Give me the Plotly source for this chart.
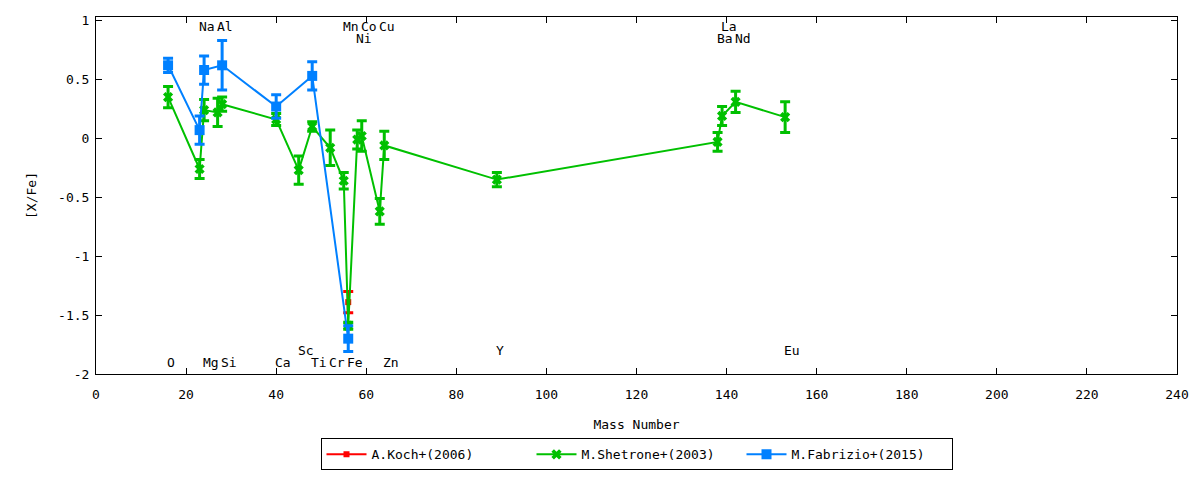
import plotly.graph_objects as go

# Shetrone+(2003)
shetrone_elem = ["O", "Na", "Mg", "Al", "Si", "Ca", "Sc", "Ti", "Cr", "Mn",
                 "Fe", "Ni", "Co", "Cu", "Zn", "Y", "Ba", "La", "Nd", "Eu"]
shetrone_mass = [16, 23, 24, 27, 28, 40, 45, 48, 52, 55,
                 56, 58, 59, 63, 64, 89, 138, 139, 142, 153]
shetrone_xfe = [0.35, -0.26, 0.24, 0.22, 0.29, 0.16, -0.27, 0.10, -0.08, -0.36,
                -1.59, -0.01, 0.02, -0.62, -0.06, -0.35, -0.03, 0.19, 0.31, 0.18]
shetrone_err = [0.09, 0.08, 0.09, 0.12, 0.06, 0.05, 0.12, 0.04, 0.15, 0.07,
                0.03, 0.08, 0.13, 0.11, 0.12, 0.06, 0.08, 0.08, 0.09, 0.13]

# Fabrizio+(2015)
fabrizio_mass = [16, 23, 24, 28, 40, 48, 56]
fabrizio_xfe = [0.62, 0.07, 0.58, 0.62, 0.27, 0.53, -1.70]
fabrizio_err = [0.06, 0.12, 0.12, 0.21, 0.10, 0.12, 0.11]

# Koch+(2006)
koch_mass = [56]
koch_xfe = [-1.39]
koch_err = [0.09]

# element labels: which row each name sits on
label_rows = {
    "top": ["Na", "Al", "Mn", "Co", "Cu", "La"],
    "top2": ["Ni", "Ba", "Nd"],
    "bottom": ["Sc", "Y", "Eu"],
    "bottom2": ["O", "Mg", "Si", "Ca", "Ti", "Cr", "Fe", "Zn"],
}
row_y = {"top": 0.95, "top2": 0.85, "bottom": -1.8, "bottom2": -1.9}

FONT = "DejaVu Sans Mono"


def series(name, mass, xfe, err, color, symbol, size):
    return go.Scatter(
        x=mass, y=xfe, name=name, mode="lines+markers",
        line=dict(color=color, width=2),
        marker=dict(color=color, symbol=symbol, size=size),
        error_y=dict(type="data", array=err, color=color, thickness=3, width=5),
    )


def main():
    fig = go.Figure()
    fig.add_trace(series("A.Koch+(2006)", koch_mass, koch_xfe, koch_err,
                         "#ff0000", "square", 6))
    fig.add_trace(series("M.Shetrone+(2003)", shetrone_mass, shetrone_xfe, shetrone_err,
                         "#00c000", "x", 9))
    fig.add_trace(series("M.Fabrizio+(2015)", fabrizio_mass, fabrizio_xfe, fabrizio_err,
                         "#0080ff", "square", 10))

    where = {el: row for row, names in label_rows.items() for el in names}
    for el, m in zip(shetrone_elem, shetrone_mass):
        fig.add_annotation(x=m, y=row_y[where[el]], text=el, showarrow=False,
                           xanchor="left", yanchor="middle", xshift=-3,
                           font=dict(family=FONT, size=13, color="black"))

    axis = dict(showline=True, linecolor="black", linewidth=1, mirror="ticks",
                ticks="inside", ticklen=6, tickcolor="black", showgrid=False,
                zeroline=False, automargin=False,
                tickfont=dict(family=FONT, size=13, color="black"))

    yvals = [1, 0.5, 0, -0.5, -1, -1.5, -2]
    fig.update_xaxes(range=[0, 240], dtick=20, tick0=0, ticklabelstandoff=8, **axis,
                     title=dict(text="Mass Number", standoff=19,
                                font=dict(family=FONT, size=13, color="black")))
    fig.update_yaxes(range=[-2, 1.03], tickvals=yvals, ticklabelstandoff=3,
                     ticktext=[f"{v:g}" for v in yvals], **axis,
                     title=dict(text="[X/Fe]", standoff=18,
                                font=dict(family=FONT, size=13, color="black")))

    # page body adds an 8px margin, so the figure is sized to fit inside it
    fig.update_layout(
        width=1184, height=464,
        margin=dict(l=88, r=15, t=9, b=98, autoexpand=False),
        plot_bgcolor="white", paper_bgcolor="white",
        font=dict(family=FONT, size=13, color="black"),
        legend=dict(orientation="h", x=0.5, xanchor="center", y=-0.27, yanchor="bottom",
                    bordercolor="black", borderwidth=1, bgcolor="white",
                    font=dict(family=FONT, size=13, color="black"),
                    itemwidth=40, entrywidth=155),
        showlegend=True,
    )
    fig.write_html("out.html")


if __name__ == "__main__":
    main()
